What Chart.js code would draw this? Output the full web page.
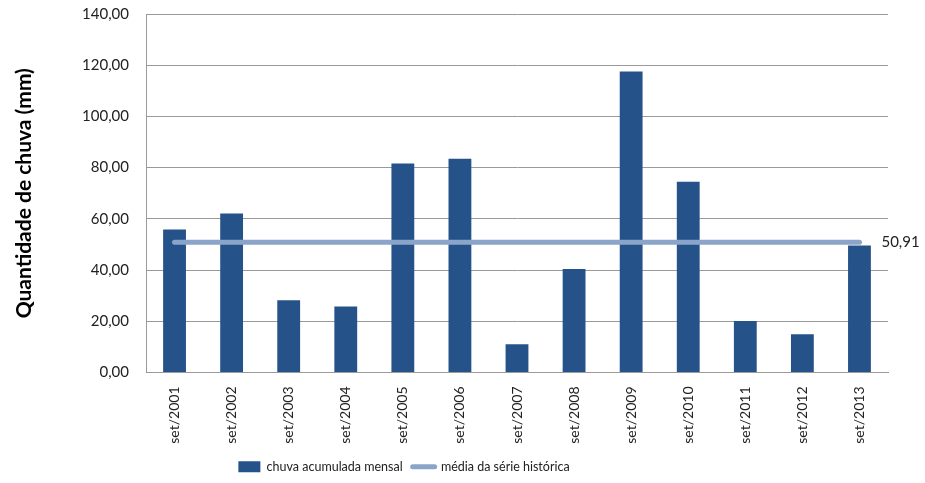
<!DOCTYPE html>
<html>
<head>
<meta charset="utf-8">
<script src="https://cdn.jsdelivr.net/npm/chart.js@4"></script>
<style>
  html, body { margin: 0; padding: 0; background: #fff; }
  #wrap { width: 925px; height: 483px; }
</style>
</head>
<body>
<div id="wrap"><canvas id="chuvaChart"></canvas></div>
<script>
// dados do gráfico
const categorias = ['set/2001', 'set/2002', 'set/2003', 'set/2004', 'set/2005', 'set/2006', 'set/2007',
                    'set/2008', 'set/2009', 'set/2010', 'set/2011', 'set/2012', 'set/2013'];
const chuvaMensal = [55.8, 62.1, 28.2, 25.8, 81.6, 83.5, 11.0, 40.4, 117.5, 74.5, 20.1, 14.9, 49.6];
const mediaSerie = [50.91, 50.91, 50.91, 50.91, 50.91, 50.91, 50.91, 50.91, 50.91, 50.91, 50.91, 50.91, 50.91];
const rotuloMedia = '50,91';

const fonte = "Lato, 'Open Sans', sans-serif";

// rótulo do valor médio no fim da linha + deslocamento da legenda
const rotuloPlugin = {
    id: 'rotuloMedia',
    afterLayout(chart) {
        // a legenda do original fica à esquerda do centro
        if (chart.legend) {
            chart.legend.left -= 40;
            chart.legend.right -= 40;
        }
    },
    afterDatasetsDraw(chart) {
        const meta = chart.getDatasetMeta(1);
        const last = meta.data[meta.data.length - 1];
        if (!last) return;
        const ctx = chart.ctx;
        ctx.save();
        ctx.font = '15px ' + fonte;
        ctx.fillStyle = '#222';
        ctx.textAlign = 'left';
        ctx.textBaseline = 'middle';
        ctx.fillText(rotuloMedia, last.x + 22, last.y);
        ctx.restore();
    }
};

new Chart(document.getElementById('chuvaChart'), {
    data: {
        labels: categorias,
        datasets: [{
            type: 'bar',
            label: 'chuva acumulada mensal',
            data: chuvaMensal,
            backgroundColor: '#26528a',
            barPercentage: 0.8,
            categoryPercentage: 0.5,
            order: 2
        }, {
            type: 'line',
            label: 'média da série histórica',
            data: mediaSerie,
            borderColor: '#8ba5ca',
            backgroundColor: '#8ba5ca',
            borderWidth: 5,
            borderCapStyle: 'round',
            pointRadius: 0,
            fill: false,
            order: 1
        }]
    },
    options: {
        responsive: true,
        maintainAspectRatio: false,
        animation: false,
        layout: {
            padding: { top: 14, right: 37, left: 0, bottom: 0 }
        },
        plugins: {
            tooltip: { enabled: false },
            legend: {
                position: 'bottom',
                labels: {
                    color: '#222',
                    font: { family: fonte, size: 12.5 },
                    usePointStyle: true,
                    boxHeight: 11,
                    pointStyleWidth: 22,
                    padding: 10,
                    generateLabels(chart) {
                        const items = Chart.defaults.plugins.legend.labels.generateLabels(chart);
                        items.sort((a, b) => a.datasetIndex - b.datasetIndex);
                        items.forEach(it => {
                            if (it.datasetIndex === 0) {
                                it.pointStyle = 'rect';
                                it.lineWidth = 0;
                            } else {
                                it.pointStyle = 'line';
                                it.lineWidth = 5;
                                it.lineCap = 'round';
                            }
                        });
                        return items;
                    }
                }
            }
        },
        scales: {
            x: {
                grid: { display: false, drawTicks: false },
                border: { display: true, color: '#9a9a9a', width: 1 },
                ticks: {
                    color: '#222',
                    font: { family: fonte, size: 14 },
                    minRotation: 90,
                    maxRotation: 90,
                    padding: 14
                },
                afterFit(scale) { scale.height = 78; }
            },
            y: {
                min: 0,
                max: 140,
                grid: { color: '#9a9a9a', drawTicks: false },
                border: { display: true, color: '#9a9a9a', width: 1 },
                ticks: {
                    stepSize: 20,
                    color: '#222',
                    padding: 17,
                    font: { family: fonte, size: 15 },
                    callback: v => v.toFixed(2).replace('.', ',')
                },
                title: {
                    display: true,
                    text: 'Quantidade de chuva (mm)',
                    color: '#000',
                    font: { family: fonte, size: 21, weight: 'bold' },
                    padding: { top: 12, bottom: 0 }
                },
                afterFit(scale) {
                    scale.width = 146;
                    scale.paddingTop = 0;
                    scale.paddingBottom = 0;
                }
            }
        }
    },
    plugins: [rotuloPlugin]
});
</script>
</body>
</html>
